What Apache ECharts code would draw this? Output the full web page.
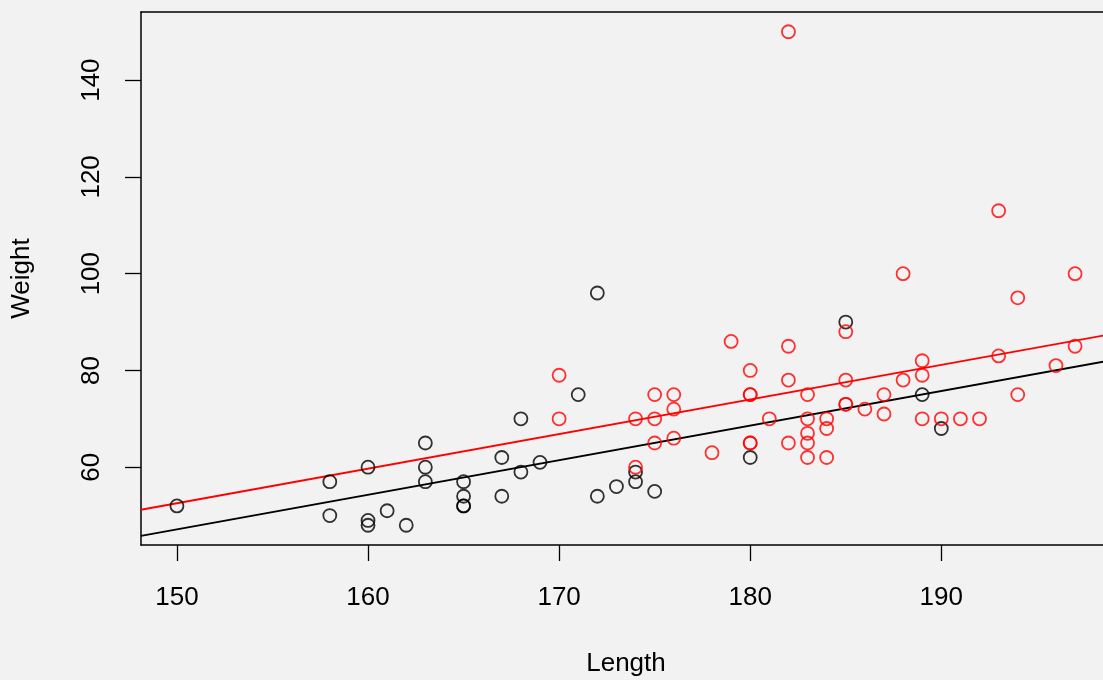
<!DOCTYPE html>
<html>
<head>
<meta charset="utf-8">
<script src="https://cdn.jsdelivr.net/npm/echarts@6/dist/echarts.min.js"></script>
<style>
html,body{margin:0;padding:0;background:#f2f2f2;}
#c{width:1103px;height:680px;}
</style>
</head>
<body>
<div id="c"></div>
<script>
// Group 1 (black)
const blackLength = [150,158,158,160,160,160,161,162,163,163,163,165,165,165,165,167,167,168,168,169,171,172,172,173,174,174,175,180,185,189,190];
const blackWeight = [52,57,50,60,49,48,51,48,65,60,57,57,54,52,52,62,54,70,59,61,75,96,54,56,57,59,55,62,90,75,68];
// Group 2 (red)
const redLength = [170,170,174,174,175,175,175,176,176,176,178,179,180,180,180,180,180,181,182,182,182,182,183,183,183,183,183,184,184,184,185,185,185,185,186,187,187,188,188,189,189,189,190,191,192,193,193,194,194,196,197,197];
const redWeight = [79,70,70,60,75,70,65,75,72,66,63,86,80,75,75,65,65,70,150,85,78,65,75,70,67,65,62,70,68,62,88,78,73,73,72,75,71,100,78,82,79,70,70,70,70,113,83,95,75,81,100,85];
// Fitted lines (intercept, slope)
const blackLine = [-60.11, 0.715];
const redLine = [-54.70, 0.715];
// Axis ticks
const xTicks = [150,160,170,180,190];
const yTicks = [60,80,100,120,140];

const xMin = 148.12, xMax = 198.88, yMin = 43.92, yMax = 154.08;
function pts(xs, ys){ return xs.map((x,i)=>[x, ys[i]]); }
function lineEnds(c){ return [[xMin, c[0]+c[1]*xMin],[xMax, c[0]+c[1]*xMax]]; }

const font = 'Liberation Sans, Arial, Helvetica, sans-serif';
const frame = {show:true, onZero:false, lineStyle:{color:'#000', width:1.5}};
const chart = echarts.init(document.getElementById('c'), null, {renderer:'canvas'});
chart.setOption({
  backgroundColor: '#f2f2f2',
  animation: false,
  grid: {left:141, top:12, width:970, height:533, show:false, containLabel:false, outerBoundsMode:'none'},
  xAxis: [{
    type:'value', min:xMin, max:xMax, position:'bottom',
    name:'Length', nameLocation:'middle', nameGap:106,
    nameTextStyle:{color:'#000', fontSize:26, fontFamily:font},
    axisLine:frame,
    splitLine:{show:false},
    axisTick:{show:true, length:16, customValues:xTicks, lineStyle:{color:'#000', width:1.3}},
    axisLabel:{customValues:xTicks, color:'#000', fontSize:26, fontFamily:font, margin:40}
  },{
    type:'value', min:xMin, max:xMax, position:'top',
    axisLine:frame, axisTick:{show:false}, axisLabel:{show:false}, splitLine:{show:false}
  }],
  yAxis: {
    type:'value', min:yMin, max:yMax,
    name:'Weight', nameLocation:'middle', nameGap:106, nameRotate:90,
    nameTextStyle:{color:'#000', fontSize:26, fontFamily:font},
    axisLine:frame,
    splitLine:{show:false},
    axisTick:{show:true, length:16, customValues:yTicks, lineStyle:{color:'#000', width:1.3}},
    axisLabel:{customValues:yTicks, color:'#000', fontSize:26, fontFamily:font, margin:36, rotate:90}
  },
  series: [
    {type:'line', data:lineEnds(blackLine), showSymbol:false, symbol:'none', lineStyle:{color:'#000', width:1.8}, z:2, clip:true},
    {type:'line', data:lineEnds(redLine), showSymbol:false, symbol:'none', lineStyle:{color:'#ff0000', width:1.8}, z:2, clip:true},
    {type:'scatter', data:pts(blackLength, blackWeight), symbol:'circle', symbolSize:13,
     itemStyle:{color:'rgba(0,0,0,0)', borderColor:'#000', borderWidth:1.8}, z:3},
    {type:'scatter', data:pts(redLength, redWeight), symbol:'circle', symbolSize:13,
     itemStyle:{color:'rgba(0,0,0,0)', borderColor:'#ff0000', borderWidth:1.8}, z:3}
  ]
});
</script>
</body>
</html>
